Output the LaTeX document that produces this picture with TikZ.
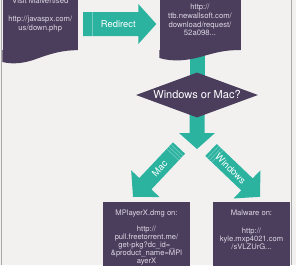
\documentclass[tikz,border=0pt]{standalone}
\usepackage{fontspec}
\setmainfont{TeX Gyre Heros}
\usetikzlibrary{positioning,calc,shapes.geometric,backgrounds}
\definecolor{slidebg}{HTML}{F2F1EF}
\definecolor{docpurple}{HTML}{4B3E5D}
\definecolor{flowteal}{HTML}{2BB3A0}
\definecolor{doctext}{HTML}{DCD7E3}
\definecolor{slideedge}{HTML}{A8A8A8}
% block arrow: start, tip, half shaft, half head, head length
\newcommand{\blockarrow}[5]{%
  \coordinate (hb) at ($(#2)!#5!(#1)$);
  \fill[flowteal] ($(#1)!#3!90:(#2)$) -- ($(hb)!#3!90:(#2)$) -- ($(hb)!#4!90:(#2)$)
    -- (#2) -- ($(hb)!#4!-90:(#2)$) -- ($(hb)!#3!-90:(#2)$) -- ($(#1)!#3!-90:(#2)$) -- cycle;}

\begin{document}
\begin{tikzpicture}[x=1pt,y=1pt,
  docbody/.style={fill=docpurple,inner sep=0pt,text=doctext,align=center,
    font=\fontsize{7.7}{8.8}\selectfont},
  boxtext/.style={inner sep=0pt,text=doctext,align=center,font=\fontsize{7.6}{7.9}\selectfont},
  decision/.style={diamond,fill=docpurple,inner sep=0pt,shape aspect=2.7,
    minimum width=122pt,minimum height=45pt,text=white,font=\fontsize{11}{13}\selectfont},
  arrowlabel/.style={inner sep=0pt,text=white,font=\fontsize{9.4}{11}\selectfont},
  stripe/.style={white,opacity=.35,line width=.6pt}]
\useasboundingbox (0,0) rectangle (296,-265);

% pages
\node[docbody,minimum width=75.5pt,minimum height=70pt] (visit) at (40.25,-15)
  {Visit Malvertised\\[8.8pt]http://javaspx.com/\\us/down.php};
\fill[docpurple] (visit.south east) .. controls (62,-50) and (50,-54) .. (36,-59)
  .. controls (24,-63.5) and (12,-64.5) .. (2.5,-62) -- (visit.south west) -- cycle;
\node[docbody,minimum width=81pt,minimum height=60pt] (landing) at (200,-20)
  {http://\\ttb.newallsoft.com/\\download/request/\\52a098...};
\fill[docpurple] (landing.south east) .. controls (226,-49.5) and (214,-53) .. (200,-57)
  .. controls (188,-60.5) and (172,-62) .. (159.5,-58) -- (landing.south west) -- cycle;

\node[decision] (choice) at (197,-95) {Windows or Mac?};

\node[fill=docpurple,minimum width=87pt,minimum height=68pt] (macfile) at (146.5,-236) {};
\node[boxtext,below=8pt of macfile.north] (mactext)
  {MPlayerX.dmg on:\\[8pt]http://\\pull.freetorrent.me/\\get-pkg?dc\_id=\_\\\&product\_name=MPl\\ayerX};
\node[fill=docpurple,minimum width=77pt,minimum height=68pt] (winfile) at (251.5,-236) {};
\node[boxtext,below=7.5pt of winfile.north] (wintext)
  {Malware on:\\[11pt]http://\\kyle.mxp4021.com\\/sVLZUrG...};

% arrows
\coordinate (redirfrom) at ($(visit.east)+(5pt,-9pt)$);
\coordinate (redirto) at ($(landing.west)+(-3pt,-4pt)$);
\coordinate (fork) at (197,-149);
\coordinate (macstart) at ($(fork)+(-18pt,1pt)$);
\coordinate (mactip) at ($(macfile.north)+(-13.5pt,5pt)$);
\coordinate (winstart) at ($(fork)+(14pt,-1pt)$);
\coordinate (wintip) at ($(winfile.north)+(8.5pt,5pt)$);
\begin{scope}[on background layer]
  \fill[slidebg] (0,0) rectangle (296,-265);
  \fill[flowteal] ($(landing.south -| choice.north)+(-7.5pt,5pt)$) rectangle ($(choice.north)+(7.5pt,-8pt)$);
  \blockarrow{redirfrom}{redirto}{12pt}{20pt}{18pt}
  \blockarrow{choice.center}{fork}{7.5pt}{18pt}{16pt}
  \blockarrow{macstart}{mactip}{8.3pt}{19.5pt}{18pt}
  \blockarrow{winstart}{wintip}{8.3pt}{19.5pt}{18pt}
\end{scope}
\draw[stripe] ($($(redirfrom)!9pt!(redirto)$)!12pt!90:(redirto)$) -- ($($(redirfrom)!9pt!(redirto)$)!12pt!-90:(redirto)$);
\foreach \d in {3pt,6pt,9pt}{
  \draw[stripe] ($($(macstart)!\d!(mactip)$)!8.3pt!90:(mactip)$) -- ($($(macstart)!\d!(mactip)$)!8.3pt!-90:(mactip)$);
  \draw[stripe] ($($(winstart)!\d!(wintip)$)!8.3pt!90:(wintip)$) -- ($($(winstart)!\d!(wintip)$)!8.3pt!-90:(wintip)$);
}
\node[arrowlabel] (redirlabel) at ($(redirfrom)!.48!(redirto)$) {Redirect};
\node[arrowlabel,rotate=47] (maclabel) at ($(macstart)!.42!(mactip)$) {Mac};
\node[arrowlabel,rotate=-44] (winlabel) at ($(winstart)!.4!(wintip)$) {Windows};

% slide edges
\draw[slideedge,line width=1.2pt] (1.2,0) -- (1.2,-265);
\draw[slideedge,line width=.8pt] (291.3,0) -- (291.3,-265);
\end{tikzpicture}
\end{document}
